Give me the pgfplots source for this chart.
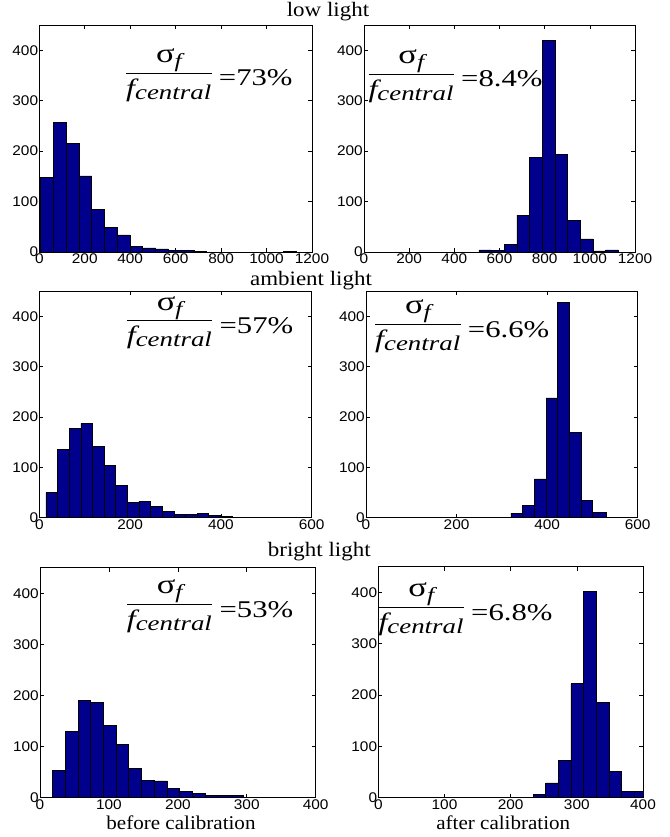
\documentclass[border=0pt]{standalone}
\usepackage{pgfplots}
\pgfplotsset{compat=1.18}
\usepackage{fontspec}
\setmainfont{Liberation Serif}
\newfontfamily\tickfont{Liberation Sans}[FakeStretch=1.1]
\newfontfamily\titlefont{Liberation Serif}[FakeStretch=1.12]
\newfontfamily\labelfont{Liberation Serif}[FakeStretch=1.08]
\newfontfamily\fracfont{Liberation Serif}[FakeStretch=1.28]
\definecolor{barblue}{RGB}{0,0,140}
\newcommand{\ratio}[1]{%
{\fracfont\fontsize{25}{30}\selectfont
$\displaystyle\frac{\mbox{\fracfont\fontsize{27}{30}\selectfont σ\raisebox{-5pt}{\fontsize{20}{24}\selectfont\itshape f}}}{\mbox{\fracfont\itshape f\raisebox{-3pt}{\fontsize{21}{24}\selectfont central}}\hspace{0.5pt}}$%
\hspace{6pt}\raisebox{-6.5pt}{\fontsize{24}{28}\selectfont=#1\%}}}
\pgfplotsset{
  hist/.style={
    scale only axis, anchor=south west,
    ymin=0, ymax=450, ytick={0,100,200,300,400},
    tick align=inside, major tick length=4pt,
    tick style={black, line width=0.6pt},
    axis line style={black, line width=0.8pt},
    ticklabel style={font=\tickfont\fontsize{14}{16}\selectfont},
    /pgf/number format/assume math mode=true,
    /pgf/number format/1000 sep={},
    scaled ticks=false,
    yticklabel style={inner sep=1pt},
    xticklabel style={inner sep=2pt},
  },
  barstyle/.style={ybar interval, fill=barblue, draw=black, line width=0.6pt}
}
\begin{document}
\begin{tikzpicture}
\path[use as bounding box] (0,0) rectangle (669pt,-837pt);
% ---------- low light ----------
\begin{axis}[hist, at={(39.3pt,-252pt)}, width=272.7pt, height=227pt,
  xmin=0, xmax=1200, xtick={0,200,400,600,800,1000,1200}]
\addplot[barstyle] coordinates {
(5,148) (61.3,257) (117.6,216) (173.9,151) (230.2,85) (286.5,48) (342.8,34)
(399.1,11) (455.4,8) (511.7,6) (568,3) (624.3,3) (680.6,1) (736.9,0)
(793.2,0) (849.5,0) (905.8,0) (962.1,0) (1018.4,0) (1074.7,1) (1131,0)};
\end{axis}
\begin{axis}[hist, at={(364pt,-252pt)}, width=271pt, height=227pt,
  xmin=0, xmax=1200, xtick={0,200,400,600,800,1000,1200}]
\addplot[barstyle] coordinates {
(509,4) (565,3) (621,15) (677,73) (733,188) (790,420) (846,194)
(902,62) (958,26) (1014,2) (1070,4) (1126,0)};
\end{axis}
% ---------- ambient light ----------
\begin{axis}[hist, at={(39.3pt,-517.7pt)}, width=272.4pt, height=226.7pt,
  xmin=0, xmax=600, xtick={0,200,400,600}]
\addplot[barstyle] coordinates {
(14.7,50) (40.3,136) (65.9,177) (91.5,187) (117.1,141) (142.7,104) (168.3,64)
(193.9,30) (219.5,33) (245.1,23) (270.7,13) (296.3,7) (321.9,7) (347.5,8)
(373.1,5) (398.7,2) (424.3,0) (449.9,0) (475.5,0) (501.1,0) (526.7,0)};
\end{axis}
\begin{axis}[hist, at={(366pt,-517.7pt)}, width=271.7pt, height=226.7pt,
  xmin=0, xmax=600, xtick={0,200,400,600}]
\addplot[barstyle] coordinates {
(320,9) (346,25) (372,77) (397.5,238) (423,427) (449,169) (475,34) (500.6,11) (530,0)};
\end{axis}
% ---------- bright light ----------
\begin{axis}[hist, at={(40pt,-797.7pt)}, width=275.7pt, height=230pt,
  xmin=0, xmax=400, xtick={0,100,200,300,400}]
\addplot[barstyle] coordinates {
(18.4,54) (36.8,130) (55.2,190) (73.6,187) (92,141) (110.4,105) (128.8,57)
(147.2,34) (165.6,33) (184,18) (202.4,13) (220.8,9) (239.2,4) (257.6,5)
(276,5) (294.4,1) (312.8,0) (331.2,0) (349.6,0) (368,1) (386.4,0)};
\end{axis}
\begin{axis}[hist, at={(378.3pt,-797.7pt)}, width=264.7pt, height=231pt,
  xmin=0, xmax=400, xtick={0,100,200,300,400}]
\addplot[barstyle] coordinates {
(233.8,6) (252.9,29) (272,73) (291.1,222) (310.2,402) (329.3,186)
(348.4,51) (367.5,13) (386.6,12) (405.7,0)};
\end{axis}
% ---------- titles and labels ----------
\begin{scope}[every node/.style={inner sep=0pt}]
\node[anchor=base, font=\titlefont\fontsize{20.5}{24}\selectfont] at (328pt,-16.7pt) {low light};
\node[anchor=base, font=\titlefont\fontsize{20.5}{24}\selectfont] at (311pt,-285.7pt) {ambient light};
\node[anchor=base, font=\titlefont\fontsize{20.5}{24}\selectfont] at (319.3pt,-556.7pt) {bright light};
\node[anchor=base, font=\labelfont\fontsize{19.5}{23}\selectfont] at (181pt,-829.3pt) {before calibration};
\node[anchor=base, font=\labelfont\fontsize{19.5}{23}\selectfont] at (503.3pt,-829.3pt) {after calibration};
\node[anchor=base west] at (124.8pt,-79.5pt) {\ratio{73}};
\node[anchor=base west] at (367.1pt,-80.2pt) {\ratio{8.4}};
\node[anchor=base west] at (125.5pt,-326.9pt) {\ratio{57}};
\node[anchor=base west] at (373.8pt,-330.5pt) {\ratio{6.6}};
\node[anchor=base west] at (125.5pt,-610.5pt) {\ratio{53}};
\node[anchor=base west] at (377.1pt,-613.5pt) {\ratio{6.8}};
\end{scope}
\end{tikzpicture}
\end{document}
